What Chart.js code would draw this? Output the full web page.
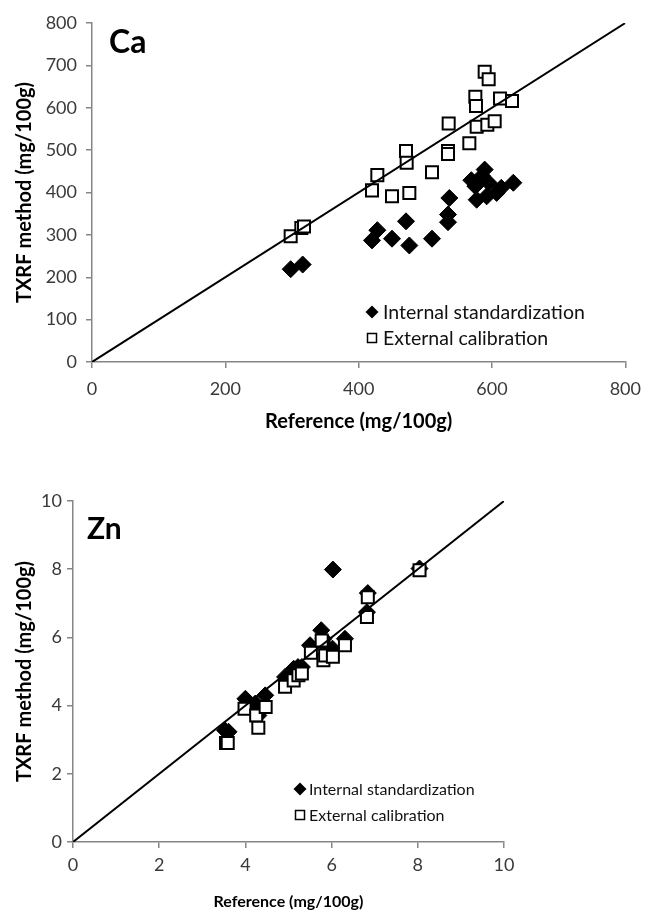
<!DOCTYPE html>
<html lang="en">
<head>
  <meta charset="UTF-8" />
  <title>TXRF vs Reference - Ca and Zn</title>
  <script src="https://cdn.jsdelivr.net/npm/chart.js"></script>
  <style>
    body { margin: 0; background: #fff; }
    .wrap { position: relative; width: 651px; height: 911px; }
    #caChart { position: absolute; left: 0; top: 0; }
    #znChart { position: absolute; left: 0; top: 440px; }
  </style>
</head>
<body>
  <div class="wrap">
    <canvas id="caChart" width="651" height="440"></canvas>
    <canvas id="znChart" width="651" height="471"></canvas>
  </div>

  <script>
    // Ca (mg/100g): reference value vs TXRF result
    const caRefInternal  = [298, 316, 420, 428, 450, 471, 476, 510, 534, 534, 536, 569, 575, 577, 585, 589, 592, 595, 607, 614, 632];
    const caTxrfInternal = [219, 230, 287, 311, 291, 332, 275, 291, 330, 348, 387, 429, 415, 383, 439, 454, 391, 423, 399, 411, 423];
    const caRefExternal  = [298, 314, 318, 420, 428, 450, 471, 472, 476, 510, 534, 534, 535, 566, 575, 576, 577, 589, 593, 595, 604, 612, 630];
    const caTxrfExternal = [297, 316, 320, 405, 441, 391, 498, 470, 399, 448, 498, 491, 563, 516, 626, 604, 555, 685, 560, 667, 568, 622, 616];

    // Zn (mg/100g)
    const znRefInternal  = [3.53, 3.61, 4.00, 4.23, 4.30, 4.46, 4.92, 5.12, 5.22, 5.31, 5.50, 5.76, 5.81, 5.85, 6.02, 6.03, 6.31, 6.84, 6.82, 8.04];
    const znTxrfInternal = [3.27, 3.23, 4.20, 4.06, 3.71, 4.30, 4.84, 5.08, 5.13, 5.13, 5.77, 6.21, 5.96, 5.77, 5.67, 7.99, 5.96, 7.30, 6.74, 8.02];
    const znRefExternal  = [3.55, 3.59, 3.98, 4.25, 4.30, 4.47, 4.92, 5.12, 5.23, 5.31, 5.52, 5.77, 5.81, 5.85, 6.03, 6.31, 6.82, 6.84, 8.04];
    const znTxrfExternal = [2.90, 2.90, 3.91, 3.71, 3.35, 3.96, 4.55, 4.74, 4.89, 4.94, 5.55, 5.91, 5.33, 5.47, 5.43, 5.77, 6.60, 7.18, 7.97];

    const caTicks = { xStep: 200, yStep: 100, max: 800 };
    const znTicks = { xStep: 2, yStep: 2, max: 10 };
    const seriesNames = ['Internal standardization', 'External calibration'];
    const xTitle = 'Reference (mg/100g)';
    const yTitle = 'TXRF method (mg/100g)';

    const FONT = 'Lato, "Open Sans", sans-serif';
    const axisGray = '#868686';
    const tickText = '#3a3a3a';

    function toPoints(xs, ys) {
      return xs.map((x, i) => ({ x: x, y: ys[i] }));
    }

    // legend + element label drawn inside the plot area
    const insideLegend = {
      id: 'insideLegend',
      afterDraw(chart, args, o) {
        const ctx = chart.ctx;
        ctx.save();
        // element name
        ctx.fillStyle = '#000';
        ctx.font = 'bold ' + o.labelSize + 'px ' + FONT;
        ctx.textBaseline = 'middle';
        ctx.textAlign = 'left';
        ctx.fillText(o.label, o.labelX, o.labelY);

        ctx.font = o.fontSize + 'px ' + FONT;
        seriesNames.forEach((name, i) => {
          const cy = o.y + i * o.gap;
          if (i === 0) {
            const r = 6.5;
            ctx.beginPath();
            ctx.moveTo(o.x, cy - r);
            ctx.lineTo(o.x + r, cy);
            ctx.lineTo(o.x, cy + r);
            ctx.lineTo(o.x - r, cy);
            ctx.closePath();
            ctx.fillStyle = '#000';
            ctx.fill();
          } else {
            ctx.lineWidth = 1.5;
            ctx.strokeStyle = '#000';
            ctx.strokeRect(o.x - 4.5, cy - 4.5, 9, 9);
          }
          ctx.fillStyle = '#111';
          ctx.fillText(name, o.textX, cy + 1);
        });
        ctx.restore();
      }
    };

    function makeChart(id, refI, txI, refE, txE, t, lay) {
      return new Chart(document.getElementById(id), {
        type: 'scatter',
        data: {
          datasets: [
            {
              type: 'line',
              label: '1:1',
              data: [{ x: 0, y: 0 }, { x: t.max, y: t.max }],
              borderColor: '#000',
              borderWidth: 2,
              pointRadius: 0,
              fill: false,
              order: 0
            },
            {
              label: seriesNames[1],
              data: toPoints(refE, txE),
              pointStyle: 'rect',
              pointRadius: 8.5,
              pointBackgroundColor: '#fff',
              pointBorderColor: '#000',
              pointBorderWidth: 2,
              order: 1
            },
            {
              label: seriesNames[0],
              data: toPoints(refI, txI),
              pointStyle: 'rectRot',
              pointRadius: 8.5,
              pointBackgroundColor: '#000',
              pointBorderColor: '#000',
              pointBorderWidth: 1,
              order: 2
            }
          ]
        },
        options: {
          responsive: false,
          animation: false,
          layout: { padding: { top: lay.top, right: lay.right, left: 0, bottom: 0 } },
          plugins: {
            legend: { display: false },
            tooltip: { enabled: false },
            insideLegend: lay.legend
          },
          scales: {
            x: {
              type: 'linear',
              min: 0,
              max: t.max,
              afterFit: s => { s.height = lay.xHeight; },
              ticks: {
                stepSize: t.xStep,
                color: tickText,
                padding: lay.xTickPad,
                font: { family: FONT, size: lay.tickSize }
              },
              grid: { drawOnChartArea: false, tickLength: 6, color: axisGray, lineWidth: 1.5 },
              border: { color: axisGray, width: 1.5 },
              title: {
                display: true,
                text: xTitle,
                color: '#000',
                padding: { top: 0, bottom: lay.xTitlePad },
                font: { family: FONT, size: lay.xTitleSize, weight: 'bold' }
              }
            },
            y: {
              type: 'linear',
              min: 0,
              max: t.max,
              afterFit: s => { s.width = lay.yWidth; },
              ticks: {
                stepSize: t.yStep,
                color: tickText,
                padding: lay.yTickPad,
                font: { family: FONT, size: lay.tickSize }
              },
              grid: { drawOnChartArea: false, tickLength: 6, color: axisGray, lineWidth: 1.5 },
              border: { color: axisGray, width: 1.5 },
              title: {
                display: true,
                text: yTitle,
                color: '#000',
                padding: { top: lay.yTitlePad, bottom: 0 },
                font: { family: FONT, size: lay.yTitleSize, weight: 'bold' }
              }
            }
          }
        },
        plugins: [insideLegend]
      });
    }

    makeChart('caChart', caRefInternal, caTxrfInternal, caRefExternal, caTxrfExternal, caTicks, {
      top: 23, right: 19, xHeight: 78, yWidth: 92,
      xTickPad: 10, yTickPad: 9, tickSize: 18,
      xTitleSize: 20, yTitleSize: 20, xTitlePad: 6, yTitlePad: 13,
      legend: { label: 'Ca', labelX: 109, labelY: 43, labelSize: 32,
                x: 372, y: 312, gap: 26, textX: 383, fontSize: 19.5 }
    });

    makeChart('znChart', znRefInternal, znTxrfInternal, znRefExternal, znTxrfExternal, znTicks, {
      top: 61, right: 147, xHeight: 69, yWidth: 73,
      xTickPad: 6, yTickPad: 5, tickSize: 18,
      xTitleSize: 16, yTitleSize: 20, xTitlePad: 0, yTitlePad: 13,
      legend: { label: 'Zn', labelX: 87, labelY: 89, labelSize: 30,
                x: 300, y: 349, gap: 26, textX: 309, fontSize: 16 }
    });
  </script>
</body>
</html>
